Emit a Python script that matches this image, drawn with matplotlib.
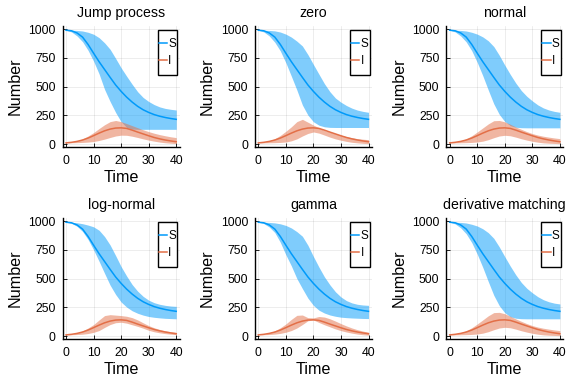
import matplotlib
matplotlib.use("Agg")
import matplotlib.pyplot as plt
from matplotlib.patches import Rectangle

plt.rcParams['font.family'] = ['Liberation Sans', 'DejaVu Sans']

# ---------------- data ----------------
t = [0, 2, 4, 6, 8, 10, 12, 14, 16, 18, 20, 22, 24, 26, 28, 30, 32, 34, 36, 38, 40]

S_mean = [990, 985, 966, 930, 866, 790, 716, 648, 580, 514, 458, 408, 365, 328, 298, 275, 256, 242, 231, 222, 215]
I_mean = [10, 15, 23, 35, 52, 73, 95, 115, 130, 139, 141, 136, 121, 104, 88, 72, 57, 45, 35, 27, 20]

titles = ["Jump process", "zero", "normal", "log-normal", "gamma", "derivative matching"]

jump_S_hi = [990, 990, 988, 983, 972, 955, 925, 880, 824, 745, 663, 590, 520, 455, 405, 370, 343, 323, 310, 302, 296]
jump_S_lo = [990, 975, 940, 890, 815, 721, 610, 475, 370, 275, 194, 145, 130, 128, 128, 128, 128, 128, 128, 128, 128]
jump_I_hi = [10, 17, 28, 45, 70, 100, 135, 168, 195, 205, 195, 178, 160, 142, 124, 108, 94, 82, 72, 63, 56]
jump_I_lo = [10, 11, 12, 14, 17, 22, 31, 43, 57, 70, 77, 76, 68, 57, 45, 34, 25, 17, 11, 7, 4]

zero_S_hi = [990, 990, 988, 984, 974, 956, 930, 895, 853, 778, 692, 608, 525, 455, 400, 364, 335, 312, 295, 284, 276]
zero_S_lo = [990, 975, 940, 885, 810, 707, 590, 470, 340, 252, 194, 164, 150, 145, 144, 144, 144, 144, 144, 144, 144]
zero_I_hi = [10, 17, 28, 47, 75, 111, 150, 195, 215, 190, 165, 142, 118, 104, 90, 77, 65, 55, 47, 42, 38]
zero_I_lo = [10, 10, 11, 12, 14, 18, 28, 45, 70, 92, 105, 95, 78, 60, 45, 33, 23, 15, 10, 6, 3]

normal_S_hi = [990, 990, 988, 983, 972, 956, 932, 898, 848, 772, 686, 605, 530, 465, 415, 375, 340, 314, 296, 284, 276]
normal_S_lo = [990, 975, 940, 888, 812, 710, 595, 470, 350, 258, 196, 160, 146, 142, 141, 141, 141, 141, 141, 141, 141]
normal_I_hi = [10, 17, 28, 46, 72, 105, 140, 175, 203, 205, 193, 172, 148, 128, 108, 91, 78, 68, 60, 53, 47]
normal_I_lo = [10, 10, 11, 12, 14, 18, 25, 38, 55, 70, 76, 72, 60, 46, 34, 24, 16, 10, 7, 5, 3]

lognormal_S_hi = [990, 989, 985, 977, 965, 950, 920, 865, 792, 700, 604, 522, 448, 390, 345, 312, 290, 276, 267, 261, 258]
lognormal_S_lo = [990, 980, 955, 910, 840, 750, 650, 545, 443, 362, 296, 252, 220, 198, 182, 170, 163, 158, 154, 152, 150]
lognormal_I_hi = [10, 16, 27, 44, 70, 100, 140, 178, 186, 182, 178, 172, 160, 140, 115, 91, 72, 57, 46, 38, 32]
lognormal_I_lo = [10, 11, 13, 16, 22, 32, 48, 75, 100, 116, 120, 112, 98, 84, 68, 50, 37, 28, 21, 16, 12]

gamma_S_hi = [990, 990, 988, 984, 976, 962, 940, 908, 868, 790, 692, 600, 515, 445, 385, 340, 308, 288, 276, 270, 267]
gamma_S_lo = [990, 978, 948, 900, 815, 707, 610, 500, 413, 330, 267, 225, 200, 183, 172, 164, 160, 157, 155, 153, 152]
gamma_I_hi = [10, 16, 27, 45, 72, 105, 145, 180, 183, 160, 158, 170, 165, 150, 130, 108, 88, 70, 55, 43, 33]
gamma_I_lo = [10, 11, 13, 17, 23, 33, 48, 70, 100, 133, 140, 118, 98, 80, 62, 47, 35, 25, 17, 11, 7]

dm_S_hi = [990, 990, 988, 983, 972, 957, 933, 899, 850, 775, 690, 608, 532, 466, 415, 376, 342, 316, 298, 286, 279]
dm_S_lo = [990, 975, 941, 889, 813, 712, 598, 474, 355, 264, 203, 168, 155, 151, 150, 150, 150, 150, 150, 150, 150]
dm_I_hi = [10, 17, 28, 46, 72, 105, 140, 176, 204, 206, 194, 172, 149, 128, 108, 91, 78, 68, 60, 53, 47]
dm_I_lo = [10, 10, 11, 12, 14, 18, 25, 38, 55, 70, 76, 72, 60, 46, 34, 24, 16, 10, 7, 5, 3]

S_hi = [jump_S_hi, zero_S_hi, normal_S_hi, lognormal_S_hi, gamma_S_hi, dm_S_hi]
S_lo = [jump_S_lo, zero_S_lo, normal_S_lo, lognormal_S_lo, gamma_S_lo, dm_S_lo]
I_hi = [jump_I_hi, zero_I_hi, normal_I_hi, lognormal_I_hi, gamma_I_hi, dm_I_hi]
I_lo = [jump_I_lo, zero_I_lo, normal_I_lo, lognormal_I_lo, gamma_I_lo, dm_I_lo]

xticks = [0, 10, 20, 30, 40]
yticks = [0, 250, 500, 750, 1000]
series_names = ["S", "I"]

# ---------------- style ----------------
BLUE = "#009AFA"
ORANGE = "#E36F47"

fig = plt.figure(figsize=(5.76, 3.84), dpi=100)
lefts = [0.1089, 0.4427, 0.7750]
bottoms = [0.6159, 0.1159]
W, H = 0.2028, 0.3174

for k in range(6):
    r, c = divmod(k, 3)
    ax = fig.add_axes([lefts[c], bottoms[r], W, H])
    ax.fill_between(t, S_lo[k], S_hi[k], color=BLUE, alpha=0.5, lw=0)
    ax.fill_between(t, I_lo[k], I_hi[k], color=ORANGE, alpha=0.5, lw=0)
    ax.plot(t, S_mean, color=BLUE, lw=1.1, label=series_names[0])
    ax.plot(t, I_mean, color=ORANGE, lw=1.1, label=series_names[1])

    ax.set_xlim(-1.2, 41.2)
    ax.set_ylim(-30, 1030)
    ax.set_xticks(xticks)
    ax.set_yticks(yticks)
    ax.grid(True, color="black", alpha=0.1, lw=0.5)
    ax.set_axisbelow(True)
    for s in ["top", "right"]:
        ax.spines[s].set_visible(False)
    for s in ["left", "bottom"]:
        ax.spines[s].set_color("black")
        ax.spines[s].set_linewidth(1.0)
    ax.tick_params(direction="in", length=3, width=0.6, labelsize=8.8, pad=5.0,
                   colors="black")
    ax.tick_params(axis="x", pad=5.5)
    ax.set_title(titles[k], fontsize=10.2, pad=6.0)
    ax.set_xlabel("Time", fontsize=11.6, labelpad=2)
    ax.set_ylabel("Number", fontsize=11.6, labelpad=4)

    ax.add_patch(Rectangle((0.813, 0.595), 0.168, 0.372, transform=ax.transAxes,
                           facecolor="white", edgecolor="black", lw=1.0, zorder=5))
    leg = ax.legend(loc="center", bbox_to_anchor=(0.895, 0.781), frameon=False,
                    fontsize=8.5, handlelength=0.7, handletextpad=0.1,
                    labelspacing=0.45, borderpad=0.0)
    leg.set_zorder(6)

fig.savefig("out.png", dpi=100, facecolor="white")
